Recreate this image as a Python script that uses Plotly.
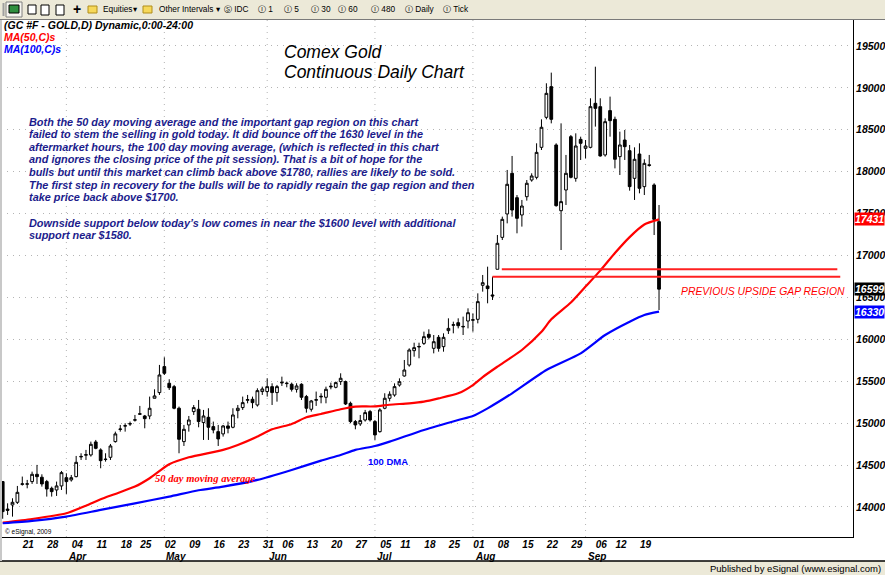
import pandas as pd
import plotly.graph_objects as go

# page / plot-area geometry (px)
W, H = 885, 575
PL, PR, PT, PB = 1, 853, 19, 537

# ---- data -------------------------------------------------------------
holidays = ['2011-04-22', '2011-05-30', '2011-07-04', '2011-09-05']
dates = [d.strftime('%Y-%m-%d') for d in pd.bdate_range('2011-03-15', '2011-09-23')
         if d.strftime('%Y-%m-%d') not in holidays]

opens = [14303, 13975, 14024, 14056, 14270, 14272, 14303, 14390, 14355, 14303,
         14223, 14203, 14251, 14350, 14323, 14362, 14597, 14618, 14621, 14776,
         14681, 14566, 14593, 14780, 14925, 14965, 14990, 15036, 15106, 15086,
         15086, 15297, 15365, 15675, 15476, 15436, 15178, 14780, 14979, 15138,
         15166, 15007, 15070, 14959, 14899, 14872, 14967, 14951, 15150, 15186,
         15273, 15285, 15217, 15377, 15377, 15436, 15365, 15480, 15472, 15464,
         15404, 15464, 15317, 15166, 15273, 15313, 15309, 15432, 15428, 15496,
         15496, 15237, 15019, 14991, 15038, 15138, 15019, 14899, 15178, 15297,
         15336, 15455, 15563, 15694, 15865, 15909, 15952, 16060, 15893, 16024,
         15913, 16104, 16168, 16199, 16148, 16219, 16228, 16239, 16645, 16637,
         16530, 16836, 17217, 17496, 17981, 17690, 17484, 17702, 17901, 17933,
         18291, 18649, 19015, 18319, 17535, 17782, 18418, 17921, 18386, 18279,
         18291, 18816, 18776, 18200, 18729, 18625, 18180, 18378, 18251, 17921,
         18211, 17822, 18082, 17842, 17404]
highs = [14310, 14044, 14104, 14251, 14363, 14323, 14422, 14502, 14390, 14323,
         14243, 14303, 14430, 14402, 14382, 14609, 14641, 14681, 14780, 14800,
         14700, 14641, 14752, 14899, 14979, 14999, 15019, 15098, 15206, 15098,
         15317, 15404, 15695, 15786, 15524, 15456, 15198, 14979, 15086, 15217,
         15277, 15158, 15178, 15019, 14979, 14979, 15019, 15178, 15217, 15317,
         15337, 15317, 15416, 15436, 15536, 15476, 15456, 15555, 15496, 15484,
         15476, 15476, 15337, 15277, 15377, 15357, 15436, 15484, 15496, 15595,
         15508, 15257, 15038, 15098, 15158, 15158, 15038, 15178, 15357, 15380,
         15475, 15535, 15754, 15893, 15960, 15960, 16092, 16120, 16052, 16052,
         16072, 16251, 16211, 16251, 16271, 16370, 16310, 16549, 16768, 16867,
         16748, 17245, 17464, 18021, 18188, 17722, 17663, 17901, 17981, 18339,
         18625, 19055, 19182, 18339, 18577, 18200, 18438, 18458, 18418, 18378,
         18876, 19253, 18876, 18637, 18896, 18657, 18478, 18498, 18319, 18291,
         18339, 18148, 18200, 17862, 17603]
lows = [13860, 13905, 13885, 14036, 14255, 14223, 14275, 14275, 14243, 14124,
        14124, 14132, 14203, 14156, 14303, 14354, 14561, 14561, 14601, 14689,
        14462, 14541, 14561, 14768, 14899, 14899, 14967, 15019, 15098, 14939,
        15047, 15297, 15337, 15575, 15396, 15166, 14641, 14728, 14899, 15098,
        14951, 14800, 14800, 14879, 14728, 14840, 14879, 14939, 15058, 15158,
        15237, 15178, 15198, 15337, 15317, 15217, 15257, 15444, 15428, 15377,
        15365, 15277, 15126, 15138, 15206, 15237, 15237, 15404, 15416, 15456,
        15217, 14999, 14927, 14967, 15019, 15019, 14800, 14887, 15166, 15260,
        15316, 15436, 15555, 15674, 15793, 15774, 15933, 16000, 15833, 15853,
        15853, 16064, 16072, 16131, 16052, 16131, 16092, 16191, 16569, 16430,
        16470, 16836, 17185, 17384, 17464, 17265, 17345, 17655, 17881, 17909,
        18259, 18625, 18577, 17583, 17066, 17603, 17921, 17881, 18140, 18160,
        18279, 18538, 18180, 18180, 18418, 18040, 17961, 18140, 17774, 17663,
        17742, 17722, 18060, 17245, 16350]
closes = [13945, 13960, 14056, 14175, 14276, 14276, 14390, 14362, 14275, 14215,
          14183, 14251, 14410, 14303, 14350, 14533, 14603, 14624, 14748, 14700,
          14553, 14570, 14728, 14872, 14930, 14970, 14994, 15040, 15112, 15054,
          15178, 15325, 15575, 15595, 15424, 15178, 14808, 14927, 15038, 15186,
          15019, 15086, 14951, 14919, 14812, 14967, 14939, 15098, 15178, 15245,
          15281, 15245, 15388, 15408, 15436, 15365, 15436, 15488, 15476, 15404,
          15444, 15309, 15178, 15265, 15281, 15320, 15404, 15440, 15484, 15536,
          15229, 15019, 14979, 15031, 15126, 15038, 14860, 15158, 15297, 15345,
          15436, 15495, 15634, 15873, 15901, 15915, 16032, 16024, 15972, 15893,
          16024, 16131, 16174, 16163, 16154, 16318, 16234, 16450, 16676, 16605,
          16517, 17146, 17432, 17850, 17543, 17444, 17591, 17862, 17949, 18231,
          18530, 18935, 18625, 17595, 17643, 17981, 17933, 18307, 18339, 18307,
          18776, 18756, 18188, 18597, 18609, 18148, 18319, 18299, 17822, 18148,
          17802, 18100, 18076, 17432, 16599]

ma50_dates = ['2011-03-15', '2011-03-23', '2011-04-01', '2011-04-07', '2011-04-12', '2011-04-15',
              '2011-04-21', '2011-04-27', '2011-05-03', '2011-05-09', '2011-05-18', '2011-05-23',
              '2011-05-27', '2011-06-02', '2011-06-08', '2011-06-13', '2011-06-16', '2011-06-22',
              '2011-06-27', '2011-07-01', '2011-07-07', '2011-07-13', '2011-07-18', '2011-07-21',
              '2011-07-27', '2011-08-01', '2011-08-03', '2011-08-08', '2011-08-15', '2011-08-19',
              '2011-08-23', '2011-08-29', '2011-09-01', '2011-09-07', '2011-09-12', '2011-09-15',
              '2011-09-20', '2011-09-23']
ma50 = [13814, 13857, 13925, 14016, 14092, 14156, 14243, 14343, 14510, 14593,
        14681, 14740, 14840, 14927, 14991, 15070, 15110, 15166, 15198, 15200,
        15220, 15237, 15257, 15296, 15356, 15455, 15550, 15674, 15873, 16090,
        16240, 16440, 16630, 16820, 17030, 17220, 17370, 17431]

ma100_dates = ['2011-03-15', '2011-03-23', '2011-04-01', '2011-04-12', '2011-04-21', '2011-05-03',
               '2011-05-11', '2011-05-18', '2011-05-27', '2011-06-08', '2011-06-16', '2011-06-22',
               '2011-06-27', '2011-07-01', '2011-07-07', '2011-07-18', '2011-07-27', '2011-08-01',
               '2011-08-04', '2011-08-11', '2011-08-22', '2011-08-31', '2011-09-08', '2011-09-15',
               '2011-09-20', '2011-09-23']
ma100 = [13806, 13834, 13885, 13965, 14044, 14124, 14200, 14243, 14323, 14442,
         14553, 14621, 14681, 14728, 14780, 14919, 15038, 15086, 15177, 15356,
         15634, 15833, 16052, 16211, 16291, 16330]

tick_dates = ['2011-03-21', '2011-03-28', '2011-04-04', '2011-04-11', '2011-04-18', '2011-04-25',
              '2011-05-02', '2011-05-09', '2011-05-16', '2011-05-23', '2011-05-31', '2011-06-06',
              '2011-06-13', '2011-06-20', '2011-06-27', '2011-07-05', '2011-07-11', '2011-07-18',
              '2011-07-25', '2011-08-01', '2011-08-08', '2011-08-15', '2011-08-22', '2011-08-29',
              '2011-09-06', '2011-09-12', '2011-09-19']
tick_text = [d[-2:] for d in tick_dates]
month_dates = ['2011-04-01', '2011-05-02', '2011-06-01', '2011-07-01', '2011-08-01', '2011-09-01']
month_text = ['Apr', 'May', 'Jun', 'Jul', 'Aug', 'Sep']
price_ticks = list(range(14000, 20000, 500))

gap_low_date, gap_high_date = '2011-08-05', '2011-08-08'
gap_low = highs[dates.index(gap_low_date)]
gap_high = lows[dates.index(gap_high_date)]
GAP_END = 171

notes = ["Both the 50 day moving average and the important gap region on this chart",
         "failed to stem the selling in gold today. It did bounce off the 1630 level in the",
         "aftermarket hours, the 100 day moving average, (which is reflected in this chart",
         "and ignores the closing price of the pit session). That is a bit of hope for the",
         "bulls but until this market can climb back above $1780, rallies are likely to be sold.",
         "The first step in recovery for the bulls will be to rapidly regain the gap region and then",
         "take price back above $1700.",
         "",
         "Downside support below today\u2019s low comes in near the $1600 level with additional",
         "support near $1580."]


def xp(px):
    return (px - PL) / (PR - PL)


def yp(py):
    return (PB - py) / (PB - PT)


ARIAL = 'Liberation Sans, Arial, sans-serif'
UI = 'Liberation Sans, DejaVu Sans, sans-serif'

fig = go.Figure()
fig.add_trace(go.Candlestick(x=dates, open=opens, high=highs, low=lows, close=closes,
                             increasing=dict(line=dict(color='#000000', width=1), fillcolor='#ffffff'),
                             decreasing=dict(line=dict(color='#000000', width=1), fillcolor='#000000'),
                             whiskerwidth=0, showlegend=False, hoverinfo='skip'))
fig.add_trace(go.Scatter(x=ma50_dates, y=ma50, mode='lines', showlegend=False, hoverinfo='skip',
                         line=dict(color='#ff0000', width=2.2, shape='spline', smoothing=0.6)))
fig.add_trace(go.Scatter(x=ma100_dates, y=ma100, mode='lines', showlegend=False, hoverinfo='skip',
                         line=dict(color='#0000ff', width=2.2, shape='spline', smoothing=0.6)))

shapes = []
# month grid lines
for m in month_dates:
    i = dates.index(m)
    shapes.append(dict(type='line', xref='x', yref='paper', x0=i, x1=i, y0=0, y1=1, layer='below',
                       line=dict(color='#b4b4b4', width=1, dash='1px,5px')))
# gap region lines
i_lo = dates.index(gap_low_date)
i_hi = dates.index(gap_high_date)
shapes.append(dict(type='line', xref='x', yref='y', x0=i_lo, x1=GAP_END, y0=gap_low, y1=gap_low,
                   line=dict(color='#ff2020', width=2)))
shapes.append(dict(type='line', xref='x', yref='y', x0=i_hi + 0.9, x1=GAP_END - 0.6, y0=gap_high, y1=gap_high,
                   line=dict(color='#ff2020', width=2)))

# window chrome: toolbar, status bar, left border
shapes += [
    dict(type='rect', xref='paper', yref='paper', x0=xp(0), x1=xp(W), y0=yp(19), y1=yp(0),
         fillcolor='#ece9d8', line=dict(width=0), layer='above'),
    dict(type='line', xref='paper', yref='paper', x0=xp(0), x1=xp(W), y0=yp(19.5), y1=yp(19.5),
         line=dict(color='#7a7a7a', width=1), layer='above'),
    dict(type='line', xref='paper', yref='paper', x0=xp(3.5), x1=xp(3.5), y0=yp(16), y1=yp(3),
         line=dict(color='#a0a0a0', width=2), layer='above'),
    dict(type='rect', xref='paper', yref='paper', x0=xp(6), x1=xp(22), y0=yp(17), y1=yp(2),
         fillcolor='#f7f6f0', line=dict(color='#808080', width=1), layer='above'),
    dict(type='rect', xref='paper', yref='paper', x0=xp(9), x1=xp(19), y0=yp(13), y1=yp(5),
         fillcolor='#2f8f3f', line=dict(color='#000000', width=1), layer='above'),
    dict(type='rect', xref='paper', yref='paper', x0=xp(28), x1=xp(36), y0=yp(14), y1=yp(5),
         fillcolor='#ffffff', line=dict(color='#000000', width=1), layer='above'),
    dict(type='rect', xref='paper', yref='paper', x0=xp(41), x1=xp(49), y0=yp(15), y1=yp(5),
         fillcolor='#ffffff', line=dict(color='#000000', width=1), layer='above'),
    dict(type='rect', xref='paper', yref='paper', x0=xp(56), x1=xp(64), y0=yp(15), y1=yp(5),
         fillcolor='#ffffff', line=dict(color='#000000', width=1), layer='above'),
    dict(type='rect', xref='paper', yref='paper', x0=xp(88), x1=xp(97), y0=yp(13), y1=yp(6),
         fillcolor='#f6d85a', line=dict(color='#b08d1a', width=1), layer='above'),
    dict(type='rect', xref='paper', yref='paper', x0=xp(143), x1=xp(152), y0=yp(13), y1=yp(6),
         fillcolor='#f6d85a', line=dict(color='#b08d1a', width=1), layer='above'),
    dict(type='rect', xref='paper', yref='paper', x0=xp(0), x1=xp(W), y0=yp(H), y1=yp(561),
         fillcolor='#ece9d8', line=dict(width=0), layer='above'),
    dict(type='line', xref='paper', yref='paper', x0=xp(0), x1=xp(W), y0=yp(561), y1=yp(561),
         line=dict(color='#000000', width=1.5), layer='above'),
    dict(type='rect', xref='paper', yref='paper', x0=xp(0), x1=xp(2), y0=yp(561), y1=yp(20),
         fillcolor='#c8c8c8', line=dict(width=0), layer='above'),
]

ann = []


def text(px, py, s, size, color='#000000', family=ARIAL, weight='normal', style='normal',
         xanchor='left', **kw):
    ann.append(dict(xref='paper', yref='paper', x=xp(px), y=yp(py), text=s, showarrow=False,
                    xanchor=xanchor, yanchor='middle', align='left',
                    font=dict(size=size, color=color, family=family, weight=weight, style=style), **kw))


# toolbar labels
for px, s in [(71, '+'), (101, 'Equities'), (131, '\u25be'), (157, 'Other Intervals'), (214, '\u25be'),
              (222, '\u24c8 IDC'), (256, '\u24be 1'), (282, '\u24be 5'), (309, '\u24be 30'),
              (336, '\u24be 60'), (369, '\u24be 480'), (403, '\u24be Daily'), (441, '\u24be Tick')]:
    if s == '+':
        text(px, 9.5, s, 14, family=UI, weight='bold')
    else:
        text(px, 9.5, s, 8.3, family=UI)

# legend lines top-left
text(2, 25, '(GC #F - GOLD,D) Dynamic,0:00-24:00', 10.5, weight='bold', style='italic')
text(2, 37, 'MA(50,C)s', 10.5, color='#ff0000', weight='bold', style='italic')
text(2, 49, 'MA(100,C)s', 10.5, color='#0000ff', weight='bold', style='italic')

# title
text(282, 52, 'Comex Gold', 17.5, style='italic')
text(282, 72, 'Continuous Daily Chart', 17.5, style='italic')

# commentary
for k, line in enumerate(notes):
    if line:
        text(27, 121.7 + 12.6 * k, line, 10.9, color='#1c1c8c', weight='bold', style='italic')

text(205, 478, '50 day moving average', 10.6, color='#ff0000',
     family='Liberation Serif, Times New Roman, serif', weight='bold', style='italic', xanchor='center')
text(388, 461, '100 DMA', 9.5, color='#0000ff', weight='bold', xanchor='center')
text(679, 291, 'PREVIOUS UPSIDE GAP REGION', 10.4, color='#ff0000', style='italic')
text(3, 532, '\u00a9 eSignal, 2009', 6.5, family=UI)
text(883, 568, 'Published by eSignal (www.esignal.com)', 9.5, family=UI, xanchor='right')

# month labels under the day labels
for m, s in zip(month_dates, month_text):
    ann.append(dict(xref='x', yref='paper', x=dates.index(m), y=yp(556), text=s, showarrow=False,
                    xanchor='left', yanchor='middle',
                    font=dict(size=10, family=ARIAL, weight='bold', style='italic', color='#000000')))

# last-value boxes on the price scale
for val, bg in [(ma50[-1], '#ff0000'), (closes[-1], '#000000'), (ma100[-1], '#0000ff')]:
    ann.append(dict(xref='paper', yref='y', x=1, y=val, text=str(val), showarrow=False,
                    xanchor='left', yanchor='middle', xshift=1, bgcolor=bg, borderpad=0,
                    font=dict(size=10.5, family=ARIAL, weight='bold', style='italic', color='#ffffff')))

fig.update_layout(
    width=W, height=H, margin=dict(l=PL, r=W - PR, t=PT, b=H - PB, autoexpand=False),
    paper_bgcolor='#ffffff', plot_bgcolor='#ffffff', boxgap=0.2,
    shapes=shapes, annotations=ann, showlegend=False,
    xaxis=dict(type='category', categoryorder='array', categoryarray=dates,
               range=[-0.347, -0.347 + (PR - PL) / 4.898], rangeslider=dict(visible=False),
               tickmode='array', tickvals=tick_dates, ticktext=tick_text, ticks='',
               ticklabelshift=6, ticklabelstandoff=-2, showgrid=False, zeroline=False, automargin=False,
               showline=True, linecolor='#000000', linewidth=1,
               tickfont=dict(size=10, family=ARIAL, weight='bold', style='italic', color='#000000')),
    yaxis=dict(side='right', range=[13642, 19822], tickmode='array', tickvals=price_ticks,
               ticktext=[str(v) for v in price_ticks], ticks='', zeroline=False, automargin=False,
               showgrid=True, gridcolor='#b4b4b4', griddash='1px,5px', gridwidth=1,
               showline=True, linecolor='#000000', linewidth=1,
               tickfont=dict(size=10.5, family=ARIAL, weight='bold', style='italic', color='#000000')),
)

fig.write_html("out.html", config={'displayModeBar': False},
               post_script="document.body.style.margin='0';document.body.style.overflow='hidden';")
